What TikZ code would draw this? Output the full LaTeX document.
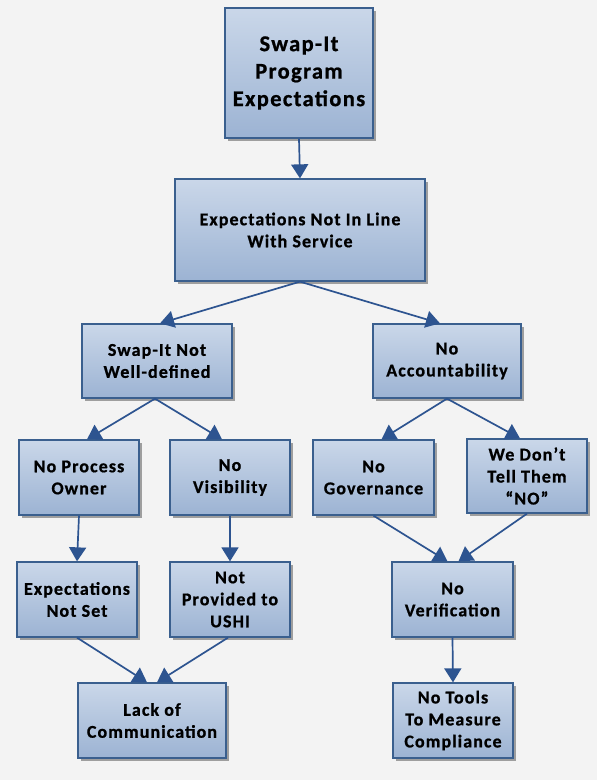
\documentclass[tikz,border=0pt]{standalone}
\usepackage{fontspec}
\setmainfont{Carlito}[LetterSpace=6, BoldFeatures={FakeBold=0.9}]
\usetikzlibrary{arrows.meta,shadows}
\definecolor{bg}{HTML}{F3F3F3}
\definecolor{boxline}{HTML}{3A5F8E}
\definecolor{boxtop}{HTML}{CAD7E9}
\definecolor{boxbot}{HTML}{9CB3D3}
\definecolor{arr}{HTML}{2D5490}
\tikzset{
  x=1pt,y=-1pt,
  box/.style={draw=boxline, line width=1.3pt, top color=boxtop, bottom color=boxbot,
    align=center, font=\fontsize{18}{22}\selectfont\bfseries, inner sep=2pt,
    drop shadow={shadow xshift=3pt,shadow yshift=-3pt,fill=black,opacity=0.35}},
  conn/.style={draw=arr, line width=1.7pt, -{Triangle[width=17pt,length=14pt]}}
}
\begin{document}
\begin{tikzpicture}
\fill[bg] (0,0) rectangle (597,780);
\useasboundingbox (0,0) rectangle (597,780);
\node[box, minimum width=148pt, minimum height=130pt, font=\fontsize{22.5}{27.5}\selectfont\bfseries] (top) at (299,73) {Swap-It\\Program\\Expectations};
\node[box, minimum width=250pt, minimum height=102pt] (exp) at (300,230) {Expectations Not In Line\\With Service};
\node[box, minimum width=150pt, minimum height=74pt] (swap) at (157,361) {Swap-It Not\\Well-defined};
\node[box, minimum width=148pt, minimum height=74pt] (acc) at (447,361) {No\\Accountability};
\node[box, minimum width=120pt, minimum height=75pt] (proc) at (79,477.5) {No Process\\Owner};
\node[box, minimum width=120pt, minimum height=75pt] (vis) at (230,477.5) {No\\Visibility};
\node[box, minimum width=120pt, minimum height=75pt] (notset) at (77,599.5) {Expectations\\Not Set};
\node[box, minimum width=120pt, minimum height=75pt] (ushi) at (230,599.5) {Not\\Provided to\\USHI};
\node[box, minimum width=148pt, minimum height=75pt] (lack) at (152,720.5) {Lack of\\Communication};
\node[box, minimum width=121pt, minimum height=75pt] (gov) at (373.5,477.5) {No\\Governance};
\node[box, minimum width=120pt, minimum height=74pt] (tell) at (527,476) {We Don’t\\Tell Them\\“NO”};
\node[box, minimum width=121pt, minimum height=75pt] (ver) at (452.5,599.5) {No\\Verification};
\node[box, minimum width=120pt, minimum height=75pt] (tools) at (453,720.5) {No Tools\\To Measure\\Compliance};

\draw[conn] (top.south) -- (exp.north);
\draw[conn] (exp.south) -- ([xshift=3pt]swap.north);
\draw[conn] (exp.south) -- ([xshift=-7pt]acc.north);
\draw[conn] ([xshift=-2pt]swap.south) -- ([xshift=8pt]proc.north);
\draw[conn] ([xshift=-2pt]swap.south) -- ([xshift=-8pt]vis.north);
\draw[conn] (proc.south) -- (notset.north);
\draw[conn] (vis.south) -- (ushi.north);
\draw[conn] (notset.south) -- ([xshift=-5pt]lack.north);
\draw[conn] ([xshift=-2pt]ushi.south) -- ([xshift=5pt]lack.north);
\draw[conn] (acc.south) -- ([xshift=8pt]gov.north);
\draw[conn] (acc.south) -- ([xshift=-7pt]tell.north);
\draw[conn] (gov.south) -- ([xshift=-5pt]ver.north);
\draw[conn] (tell.south) -- ([xshift=6pt]ver.north);
\draw[conn] (ver.south) -- (tools.north);
\end{tikzpicture}
\end{document}
